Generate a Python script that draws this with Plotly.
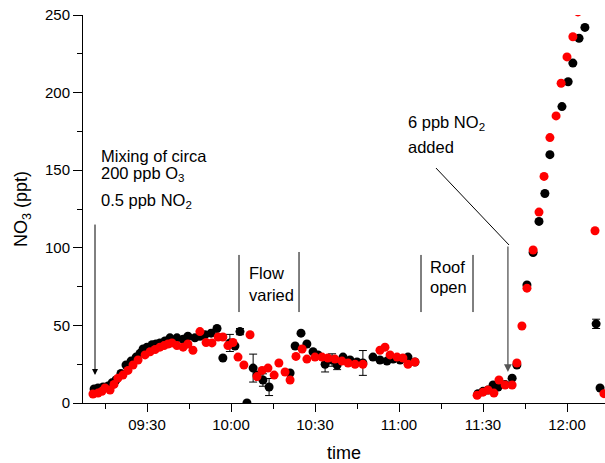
import pandas as pd
import plotly.graph_objects as go

# ---- data (minutes after 09:00, NO3 in ppt) ----
black_min = [11.1, 12.5, 14.3, 16.1, 17.5, 18.9, 20.7, 22.5, 24.3, 26.1, 27.5, 28.6, 30.0, 31.8,
             33.2, 34.6, 36.4, 38.2, 40.7, 42.9, 44.6, 47.1, 48.9, 50.7, 52.9, 55.0, 57.1, 59.6,
             61.4, 63.2, 65.7, 67.9, 69.3, 71.4, 73.6, 81.1, 82.9, 85.0, 87.1, 89.3, 91.1, 93.6,
             96.1, 97.9, 100.0, 102.5, 105.0, 107.1, 110.7, 113.2, 115.7, 117.9, 120.4, 123.2,
             125.7, 148.2, 150.0, 151.8, 153.6, 155.4, 157.9, 160.4, 162.1, 165.7, 167.9, 170.0,
             172.1, 173.9, 178.2, 180.4, 182.1, 184.3, 186.4, 190.4, 191.8]
black_val = [9, 9.7, 10.3, 11, 13, 14.8, 19, 24.5, 27, 29.6, 32, 34.8, 36, 37.5,
             38, 38.7, 40, 42, 42, 41, 43, 42, 43, 44, 45, 48, 29, 38.7,
             36.7, 46, 0, 22.5, 18, 14.8, 10.3, 19.3, 36.7, 45, 38, 33, 31, 25,
             27.7, 24.5, 29.6, 27.7, 26.4, 25.8, 29.6, 27.7, 27, 28.3, 27.7, 29.6,
             26.4, 6, 7.5, 8.4, 11.6, 10.3, 12, 16, 24.5, 76, 97, 117,
             135, 160, 191, 207, 219, 235, 242, 51, 9.7]
black_err = [0, 0, 0, 0, 0, 0, 0, 0, 0, 0, 0, 0, 0, 0,
             0, 0, 0, 0, 0, 0, 0, 0, 0, 0, 0, 0, 0, 5.5,
             0, 2, 0, 9, 0, 4, 5.5, 0, 0, 0, 0, 0, 0, 5,
             4, 3, 0, 0, 0, 8, 0, 0, 0, 0, 0, 0,
             0, 0, 0, 0, 0, 0, 0, 0, 0, 0, 0, 0,
             0, 0, 0, 0, 0, 0, 0, 3, 0]

red_min = [10.7, 12.5, 13.9, 15.0, 16.8, 18.2, 19.6, 21.4, 23.2, 25.0, 26.8, 29.3, 31.1, 32.9,
           34.6, 36.1, 37.5, 38.9, 40.7, 42.9, 44.6, 46.4, 48.9, 51.1, 53.2, 55.4, 57.1, 58.9,
           60.7, 62.5, 64.6, 66.8, 69.3, 71.1, 73.2, 75.4, 77.1, 79.3, 81.1, 83.2, 85.4, 87.1,
           90.0, 92.5, 94.6, 97.1, 99.6, 101.8, 104.3, 107.1, 113.2, 115.0, 116.8, 119.3, 121.4,
           123.2, 125.7, 147.9, 150.0, 151.8, 153.9, 155.7, 157.9, 160.4, 162.1, 163.9, 165.7,
           167.9, 170.0, 171.8, 173.9, 176.1, 177.9, 180.0, 182.1, 183.9, 190.0, 193.2]
red_val = [5.8, 6.4, 7.5, 9.7, 8.4, 12, 16, 18, 21, 24.5, 27.7, 31, 33, 34.5,
           36, 37, 38, 38.7, 37, 36, 38, 34, 46, 39, 38.7, 42.5, 42.5, 37,
           39, 29.6, 24.5, 44, 17, 21, 22.5, 18, 25.8, 20, 14.8, 30, 34.8, 28.3,
           29.6, 29.6, 29, 28.3, 27, 25.8, 25, 25, 34, 36, 31, 29.6, 29,
           25, 26.4, 5, 7, 8.4, 6.4, 14.8, 11.6, 11.6, 25.8, 49.6, 74,
           98.6, 123, 146, 171, 185, 206, 223, 236, 252, 111, 6]

base = pd.Timestamp("2000-01-01 09:00:00")


def tm(m):
    return base + pd.Timedelta(minutes=m)


bx = [tm(m) for m in black_min]
rx = [tm(m) for m in red_min]

FONT = "Arial, Liberation Sans, sans-serif"

fig = go.Figure()
fig.add_trace(go.Scatter(
    x=bx, y=black_val, mode="markers",
    marker=dict(color="black", size=9),
    error_y=dict(type="data", array=black_err, color="black", thickness=1, width=4),
    showlegend=False))
fig.add_trace(go.Scatter(
    x=rx, y=red_val, mode="markers",
    marker=dict(color="#ff0000", size=9),
    showlegend=False))

line_style = dict(color="black", width=1)
# Flow varied / Roof open brackets
for m, y0, y1 in [(62.86, 58.6, 95.4), (84.29, 58.6, 97.3), (127.86, 58.6, 95.4), (146.43, 58.6, 95.4)]:
    fig.add_shape(type="line", xref="x", yref="y", x0=tm(m), x1=tm(m), y0=y0, y1=y1, line=line_style)
# diagonal line to NO2 arrow
fig.add_shape(type="line", xref="x", yref="y", x0=tm(133.2), y0=151.4, x1=tm(159.3), y1=101.8,
              line=line_style)

ann = []
def txt(m, y, s, anchor="middle"):
    ann.append(dict(x=tm(m), y=y, xref="x", yref="y", text=s, showarrow=False,
                    xanchor="left", yanchor=anchor, font=dict(family=FONT, size=16.5, color="black")))

txt(12.9, 159.0, "Mixing of circa")
txt(12.9, 147.5, "200 ppb O<sub>3</sub>")
txt(12.9, 130.0, "0.5 ppb NO<sub>2</sub>")
txt(65.7, 83.8, "Flow")
txt(65.7, 69.6, "varied")
txt(130.4, 87.6, "Roof")
txt(130.4, 74.7, "open")
txt(122.5, 180.5, "6 ppb NO<sub>2</sub>")
txt(122.5, 164.8, "added")

# arrows
ann.append(dict(x=tm(11.43), y=18.0, xref="x", yref="y", text="", showarrow=True,
                ax=0, ay=-152, arrowhead=2, arrowsize=1.2, arrowwidth=1, arrowcolor="black"))
ann.append(dict(x=tm(158.9), y=20.0, xref="x", yref="y", text="", showarrow=True,
                ax=0, ay=-127, arrowhead=2, arrowsize=1.2, arrowwidth=1.3, arrowcolor="#555555"))

fig.update_layout(
    width=605, height=463,
    margin=dict(l=83, r=0, t=15, b=60),
    paper_bgcolor="white", plot_bgcolor="white",
    font=dict(family=FONT, color="black"),
    annotations=ann,
    xaxis=dict(
        type="date", range=[tm(7.14), tm(193.57)],
        tick0=base, dtick=1800000, tickformat="%H:%M",
        ticks="outside", ticklen=8, tickwidth=1, tickcolor="black",
        minor=dict(dtick=900000, ticks="outside", ticklen=5, tickwidth=1, tickcolor="black", showgrid=False),
        showline=True, linecolor="black", linewidth=1, showgrid=False, zeroline=False,
        tickfont=dict(size=15, family=FONT),
        title=dict(text="time", font=dict(size=18, family=FONT), standoff=14),
    ),
    yaxis=dict(
        range=[0, 250], tick0=0, dtick=50,
        ticks="outside", ticklen=9, tickwidth=1, tickcolor="black",
        minor=dict(dtick=25, ticks="outside", ticklen=5, tickwidth=1, tickcolor="black", showgrid=False),
        showline=True, linecolor="black", linewidth=1, showgrid=False, zeroline=False,
        tickfont=dict(size=15, family=FONT),
        title=dict(text="NO<sub>3</sub> (ppt)", font=dict(size=18, family=FONT), standoff=12),
    ),
)

fig.write_html("out.html")
